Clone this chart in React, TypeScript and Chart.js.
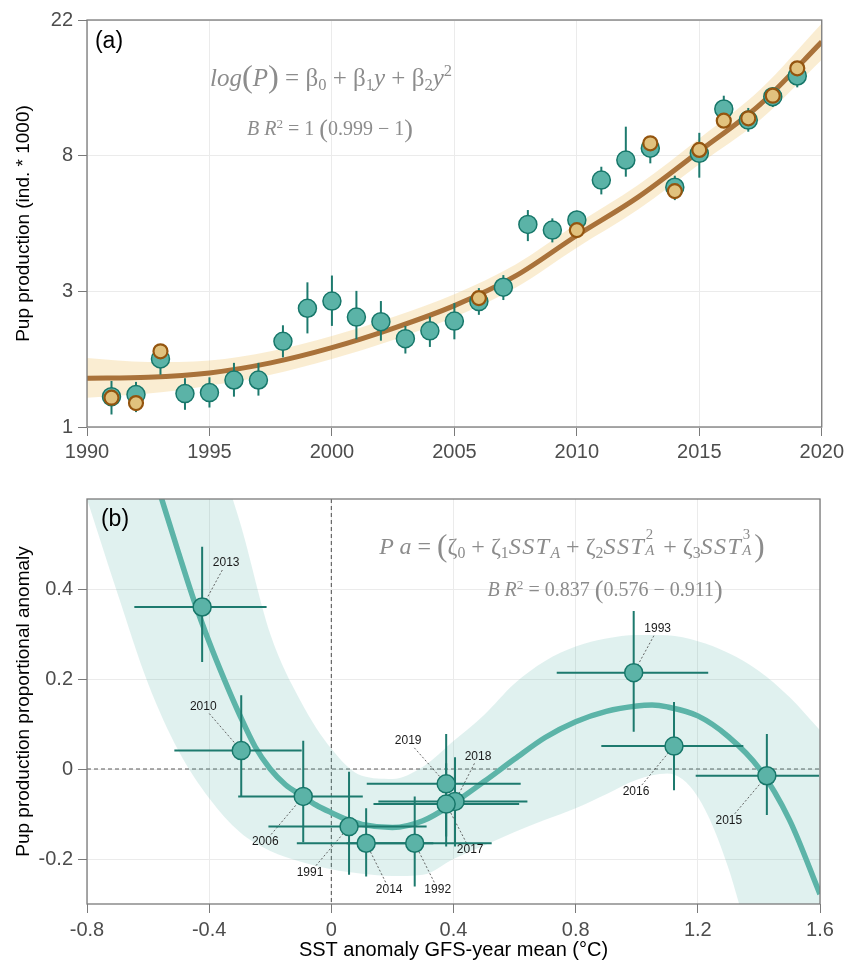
import React, { useEffect, useRef } from 'react';
import { Chart, registerables } from 'chart.js';

Chart.register(...registerables);

// ---------------- Panel (a): pup production by year (thousands) ----------------
const years = [1991, 1992, 1993, 1994, 1995, 1996, 1997, 1998, 1999, 2000, 2001, 2002, 2003, 2004, 2005, 2006, 2007, 2008, 2009, 2010, 2011, 2012, 2013, 2014, 2015, 2016, 2017, 2018, 2019];
const pupMean = [1.26, 1.28, 1.68, 1.29, 1.30, 1.43, 1.43, 1.92, 2.47, 2.61, 2.31, 2.23, 1.96, 2.08, 2.24, 2.60, 2.90, 4.68, 4.48, 4.84, 6.56, 7.64, 8.36, 6.21, 8.04, 11.27, 10.36, 12.38, 14.49];
const pupLow = [1.10, 1.12, 1.49, 1.14, 1.16, 1.26, 1.27, 1.70, 2.04, 2.16, 1.95, 1.93, 1.75, 1.84, 1.95, 2.35, 2.63, 4.12, 4.08, 4.45, 5.88, 6.73, 7.45, 5.63, 6.68, 10.3, 9.48, 11.44, 13.29];
const pupHigh = [1.42, 1.41, 1.88, 1.45, 1.46, 1.63, 1.63, 2.17, 3.01, 3.17, 2.82, 2.61, 2.16, 2.32, 2.57, 2.88, 3.18, 5.22, 4.90, 5.19, 7.26, 9.85, 9.10, 6.78, 9.40, 12.47, 11.36, 13.22, 16.0];

const altYears = [1991, 1992, 1993, 2006, 2010, 2013, 2014, 2015, 2016, 2017, 2018, 2019];
const altMean = [1.25, 1.20, 1.78, 2.67, 4.48, 8.68, 6.03, 8.25, 10.31, 10.5, 12.47, 15.36];

const fitYears = [1990, 1992.5, 1995, 1997.5, 2000, 2002.5, 2005, 2007.5, 2010, 2012.5, 2015, 2017.5, 2020];
const fitMean = [1.45, 1.46, 1.51, 1.63, 1.83, 2.12, 2.52, 3.16, 4.3, 5.76, 8.17, 11.7, 18.8];
const fitLow = [1.25, 1.29, 1.37, 1.49, 1.68, 1.94, 2.31, 2.89, 3.92, 5.24, 7.40, 10.4, 16.4];
const fitHigh = [1.69, 1.64, 1.66, 1.78, 2.00, 2.31, 2.75, 3.45, 4.70, 6.32, 9.01, 13.1, 21.6];

const aXTicks = [1990, 1995, 2000, 2005, 2010, 2015, 2020];
const aYTickLog = [0, 1.0333, 2.0667, 3.1];
const aYTickLabels = ['1', '3', '8', '22'];

// ---------------- Panel (b): proportional anomaly vs SST anomaly ----------------
const bYears = [2013, 2010, 2006, 1991, 2014, 1992, 2019, 2018, 2017, 1993, 2016, 2015];
const sstMean = [-0.423, -0.295, -0.092, 0.058, 0.114, 0.273, 0.376, 0.405, 0.376, 0.990, 1.122, 1.426];
const sstLow = [-0.645, -0.514, -0.305, -0.206, -0.113, 0.050, 0.116, 0.154, 0.138, 0.738, 0.884, 1.193];
const sstHigh = [-0.212, -0.097, 0.103, 0.312, 0.334, 0.525, 0.620, 0.642, 0.615, 1.234, 1.349, 1.597];
const anomMean = [0.360, 0.041, -0.061, -0.128, -0.165, -0.165, -0.033, -0.072, -0.078, 0.214, 0.051, -0.015];
const anomLow = [0.238, -0.061, -0.163, -0.235, -0.239, -0.261, -0.150, -0.172, -0.172, 0.083, -0.047, -0.102];
const anomHigh = [0.494, 0.164, 0.063, -0.006, -0.087, -0.061, 0.078, 0.026, 0.013, 0.351, 0.149, 0.078];

const bFitX = [-0.56, -0.5, -0.45, -0.4, -0.35, -0.3, -0.25, -0.2, -0.15, -0.1, -0.05, 0, 0.05, 0.1, 0.2, 0.3, 0.4, 0.5, 0.6, 0.7, 0.8, 0.9, 1.0, 1.05, 1.1, 1.2, 1.3, 1.4, 1.5, 1.6];
const bFitY = [0.61, 0.48, 0.375, 0.282, 0.198, 0.12, 0.05, 0.0, -0.035, -0.058, -0.08, -0.097, -0.112, -0.123, -0.13, -0.115, -0.076, -0.028, 0.022, 0.07, 0.105, 0.128, 0.14, 0.142, 0.138, 0.118, 0.072, 0.002, -0.113, -0.278];

const bBandX = [-0.8, -0.7, -0.6, -0.5, -0.4, -0.3, -0.2, -0.1, 0, 0.1, 0.2, 0.3, 0.4, 0.5, 0.6, 0.7, 0.8, 0.9, 1.0, 1.1, 1.2, 1.3, 1.4, 1.5, 1.6];
const bBandLow = [0.6, 0.39, 0.19, 0.04, -0.065, -0.14, -0.182, -0.206, -0.223, -0.233, -0.238, -0.235, -0.2, -0.17, -0.14, -0.113, -0.087, -0.056, -0.024, -0.01, -0.062, -0.22, -0.47, -0.75, -1.05];
const bBandHigh = [1.5, 1.3, 1.1, 0.92, 0.75, 0.55, 0.3, 0.15, 0.045, -0.015, -0.022, 0.005, 0.062, 0.12, 0.19, 0.24, 0.272, 0.29, 0.298, 0.297, 0.284, 0.258, 0.218, 0.16, 0.086];

const bXTicks = [-0.8, -0.4, 0, 0.4, 0.8, 1.2, 1.6];
const bYTicks = [-0.2, 0, 0.2, 0.4];

// label placement (pixel offsets from each point), layout only
const bLabelDx = [24, -38, -38, -39, 23, 23, -38, 23, 24, 24, -38, -38];
const bLabelDy = [-44, -44, 45, 46, 46, 46, -43, -45, 46, -44, 46, 45];

const SANS = '"Liberation Sans", Arial, Helvetica, sans-serif';
const SERIF = '"Liberation Serif", "Times New Roman", serif';

const TEAL_FILL = '#5bb3a7';
const TEAL_EDGE = '#17776a';
const ERR = '#1d7a6e';

const framePlugin = {
  id: 'frame',
  afterDraw(chart: any) {
    const { ctx, chartArea: a } = chart;
    ctx.save();
    ctx.strokeStyle = '#7a7a7a';
    ctx.lineWidth = 1.3;
    ctx.strokeRect(a.left, a.top, a.right - a.left, a.bottom - a.top);
    ctx.restore();
  },
};

const gridOpts = { color: '#ebebeb', lineWidth: 1, tickColor: '#7a7a7a', tickLength: 9, drawTicks: true };
const tickFont = { family: SANS, size: 20 };

function makeConfigA(): any {
  const ln = (xs: number[], ys: number[]) => xs.map((x, i) => ({ x, y: Math.log(ys[i]) }));
  const errPlugin = {
    id: 'errA',
    beforeDatasetDraw(chart: any, args: any) {
      if (args.index !== 3) return;
      const { ctx, scales } = chart;
      ctx.save();
      ctx.strokeStyle = ERR;
      ctx.lineWidth = 2;
      years.forEach((yr, i) => {
        const px = scales.x.getPixelForValue(yr);
        ctx.beginPath();
        ctx.moveTo(px, scales.y.getPixelForValue(Math.log(pupLow[i])));
        ctx.lineTo(px, scales.y.getPixelForValue(Math.log(pupHigh[i])));
        ctx.stroke();
      });
      ctx.restore();
    },
  };
  return {
    type: 'line',
    data: {
      datasets: [
        { label: 'upper', data: ln(fitYears, fitHigh), showLine: true, pointRadius: 0, borderWidth: 0, borderColor: 'rgba(0,0,0,0)', backgroundColor: 'rgba(240,205,130,0.36)', fill: '+1', order: 4, cubicInterpolationMode: 'monotone' },
        { label: 'lower', data: ln(fitYears, fitLow), showLine: true, pointRadius: 0, borderWidth: 0, borderColor: 'rgba(0,0,0,0)', fill: false, order: 3, cubicInterpolationMode: 'monotone' },
        { label: 'fit', data: ln(fitYears, fitMean), showLine: true, pointRadius: 0, borderColor: '#a9723a', borderWidth: 5, fill: false, order: 2, cubicInterpolationMode: 'monotone', clip: 0 },
        { label: 'survey', data: ln(years, pupMean), showLine: false, pointRadius: 9, pointHoverRadius: 9, pointBackgroundColor: TEAL_FILL, pointBorderColor: TEAL_EDGE, pointBorderWidth: 1.5, order: 1 },
        { label: 'alt', data: ln(altYears, altMean), showLine: false, pointRadius: 7, pointHoverRadius: 7, pointBackgroundColor: '#e1c27e', pointBorderColor: '#94550f', pointBorderWidth: 2.2, order: 0 },
      ],
    },
    options: {
      responsive: false,
      animation: false,
      events: [],
      layout: { padding: { top: 20, right: 26, left: 0, bottom: 0 } },
      elements: { line: { capBezierPoints: false } },
      plugins: { legend: { display: false }, tooltip: { enabled: false } },
      scales: {
        x: {
          type: 'linear', min: 1990, max: 2020,
          afterBuildTicks: (s: any) => { s.ticks = aXTicks.map((v) => ({ value: v })); },
          afterFit: (s: any) => { s.height = 43; },
          grid: gridOpts,
          border: { display: false },
          ticks: { color: '#4d4d4d', font: tickFont, padding: 4, maxRotation: 0, autoSkip: false, callback: (v: any) => String(v) },
        },
        y: {
          type: 'linear', min: 0, max: 3.1,
          afterBuildTicks: (s: any) => { s.ticks = aYTickLog.map((v) => ({ value: v })); },
          afterFit: (s: any) => { s.width = 87; },
          grid: gridOpts,
          border: { display: false },
          ticks: { color: '#4d4d4d', font: tickFont, padding: 5, autoSkip: false, callback: (_v: any, i: number) => aYTickLabels[i] },
          title: { display: true, text: 'Pup production (ind. * 1000)', color: '#000', font: { family: SANS, size: 19 }, padding: { top: 12, bottom: 0 } },
        },
      },
    },
    plugins: [errPlugin, framePlugin],
  };
}

function makeConfigB(): any {
  const pts = (xs: number[], ys: number[]) => xs.map((x, i) => ({ x, y: ys[i] }));
  const extras = {
    id: 'extrasB',
    beforeDatasetsDraw(chart: any) {
      const { ctx, chartArea: a, scales } = chart;
      const x0 = scales.x.getPixelForValue(0);
      const y0 = scales.y.getPixelForValue(0);
      ctx.save();
      ctx.setLineDash([4, 3]);
      ctx.strokeStyle = '#5a5a5a';
      ctx.lineWidth = 1.1;
      ctx.beginPath();
      ctx.moveTo(x0, a.top); ctx.lineTo(x0, a.bottom);
      ctx.moveTo(a.left, y0); ctx.lineTo(a.right, y0);
      ctx.stroke();
      ctx.restore();
    },
    beforeDatasetDraw(chart: any, args: any) {
      if (args.index !== 3) return;
      const { ctx, scales } = chart;
      const X = scales.x, Y = scales.y;
      ctx.save();
      // leader lines
      ctx.font = `12px ${SANS}`;
      ctx.strokeStyle = '#555';
      ctx.lineWidth = 0.9;
      ctx.setLineDash([2, 2]);
      bYears.forEach((yr, i) => {
        const px = X.getPixelForValue(sstMean[i]);
        const py = Y.getPixelForValue(anomMean[i]);
        const lx = px + bLabelDx[i];
        const ly = py + bLabelDy[i];
        const hw = ctx.measureText(String(yr)).width / 2 + 2;
        const hh = 7;
        const vx = px - lx, vy = py - ly;
        const t = Math.min(hw / Math.abs(vx || 1e-6), hh / Math.abs(vy || 1e-6));
        ctx.beginPath();
        ctx.moveTo(lx + vx * t, ly + vy * t);
        ctx.lineTo(px, py);
        ctx.stroke();
      });
      // error bars
      ctx.setLineDash([]);
      ctx.strokeStyle = ERR;
      ctx.lineWidth = 2;
      bYears.forEach((_yr, i) => {
        const px = X.getPixelForValue(sstMean[i]);
        const py = Y.getPixelForValue(anomMean[i]);
        ctx.beginPath();
        ctx.moveTo(X.getPixelForValue(sstLow[i]), py);
        ctx.lineTo(X.getPixelForValue(sstHigh[i]), py);
        ctx.moveTo(px, Y.getPixelForValue(anomLow[i]));
        ctx.lineTo(px, Y.getPixelForValue(anomHigh[i]));
        ctx.stroke();
      });
      ctx.restore();
    },
    afterDatasetsDraw(chart: any) {
      const { ctx, scales } = chart;
      ctx.save();
      ctx.font = `12px ${SANS}`;
      ctx.fillStyle = '#1a1a1a';
      ctx.textAlign = 'center';
      ctx.textBaseline = 'middle';
      bYears.forEach((yr, i) => {
        const px = scales.x.getPixelForValue(sstMean[i]);
        const py = scales.y.getPixelForValue(anomMean[i]);
        ctx.fillText(String(yr), px + bLabelDx[i], py + bLabelDy[i]);
      });
      ctx.restore();
    },
  };
  const fmt = (v: number) => String(Number(v.toFixed(1)) + 0);
  return {
    type: 'line',
    data: {
      datasets: [
        { label: 'upper', data: pts(bBandX, bBandHigh), showLine: true, pointRadius: 0, borderWidth: 0, borderColor: 'rgba(0,0,0,0)', backgroundColor: 'rgba(92,182,170,0.19)', fill: '+1', order: 4, cubicInterpolationMode: 'monotone' },
        { label: 'lower', data: pts(bBandX, bBandLow), showLine: true, pointRadius: 0, borderWidth: 0, borderColor: 'rgba(0,0,0,0)', fill: false, order: 3, cubicInterpolationMode: 'monotone' },
        { label: 'fit', data: pts(bFitX, bFitY), showLine: true, pointRadius: 0, borderColor: '#5cb4a8', borderWidth: 5.5, fill: false, order: 2, cubicInterpolationMode: 'monotone', clip: 0 },
        { label: 'years', data: pts(sstMean, anomMean), showLine: false, pointRadius: 9, pointHoverRadius: 9, pointBackgroundColor: TEAL_FILL, pointBorderColor: TEAL_EDGE, pointBorderWidth: 1.5, order: 1 },
      ],
    },
    options: {
      responsive: false,
      animation: false,
      events: [],
      layout: { padding: { top: 29, right: 28, left: 0, bottom: 0 } },
      elements: { line: { capBezierPoints: false } },
      plugins: { legend: { display: false }, tooltip: { enabled: false } },
      scales: {
        x: {
          type: 'linear', min: -0.8, max: 1.6,
          afterBuildTicks: (s: any) => { s.ticks = bXTicks.map((v) => ({ value: v })); },
          afterFit: (s: any) => { s.height = 59; },
          grid: gridOpts,
          border: { display: false },
          ticks: { color: '#4d4d4d', font: tickFont, padding: 5, maxRotation: 0, autoSkip: false, callback: (v: any) => fmt(v) },
          title: { display: true, text: 'SST anomaly GFS-year mean (°C)', color: '#000', font: { family: SANS, size: 20 }, padding: { top: 0, bottom: 1 } },
        },
        y: {
          type: 'linear', min: -0.3, max: 0.6,
          afterBuildTicks: (s: any) => { s.ticks = bYTicks.map((v) => ({ value: v })); },
          afterFit: (s: any) => { s.width = 87; },
          grid: gridOpts,
          border: { display: false },
          ticks: { color: '#4d4d4d', font: tickFont, padding: 5, autoSkip: false, callback: (v: any) => fmt(v) },
          title: { display: true, text: 'Pup production proportional anomaly', color: '#000', font: { family: SANS, size: 19 }, padding: { top: 12, bottom: 0 } },
        },
      },
    },
    plugins: [extras, framePlugin],
  };
}

const Sub = ({ children }: any) => <span style={{ fontSize: '0.66em', verticalAlign: '-0.28em', lineHeight: 0 }}>{children}</span>;
const Sup = ({ children }: any) => <span style={{ fontSize: '0.66em', verticalAlign: '0.55em', lineHeight: 0 }}>{children}</span>;
const Big = ({ children }: any) => <span style={{ fontSize: '1.3em', verticalAlign: '-0.06em', lineHeight: 0 }}>{children}</span>;
const Stack = ({ top, bot }: any) => (
  <span style={{ position: 'relative', display: 'inline-block', width: '0.5em', height: '1em' }}>
    <span style={{ position: 'absolute', left: '0.04em', top: '-0.22em', fontSize: '0.62em', lineHeight: 1 }}>{top}</span>
    <span style={{ position: 'absolute', left: '0em', top: '0.9em', fontSize: '0.62em', lineHeight: 1 }}><i>{bot}</i></span>
  </span>
);

const eqBase: any = {
  position: 'absolute',
  transform: 'translate(-50%, -50%)',
  fontFamily: SERIF,
  color: '#8c8c8c',
  whiteSpace: 'nowrap',
  lineHeight: 1,
  pointerEvents: 'none',
};
const panelTag: any = {
  position: 'absolute',
  transform: 'translate(-50%, -50%)',
  fontFamily: SANS,
  fontSize: 23,
  color: '#000',
  lineHeight: 1,
  whiteSpace: 'nowrap',
};

export default function App() {
  const refA = useRef<HTMLCanvasElement>(null);
  const refB = useRef<HTMLCanvasElement>(null);
  useEffect(() => {
    const ca = new Chart(refA.current as HTMLCanvasElement, makeConfigA());
    const cb = new Chart(refB.current as HTMLCanvasElement, makeConfigB());
    return () => { ca.destroy(); cb.destroy(); };
  }, []);
  const sst: any = { letterSpacing: '0.06em' };
  return (
    <div style={{ position: 'absolute', left: 0, top: 0, width: 848, height: 963, background: '#fff', overflow: 'hidden' }}>
      <canvas ref={refA} width={848} height={470} style={{ position: 'absolute', left: 0, top: 0, width: 848, height: 470 }} />
      <canvas ref={refB} width={848} height={493} style={{ position: 'absolute', left: 0, top: 470, width: 848, height: 493 }} />

      <div style={{ ...panelTag, left: 109, top: 40 }}>(a)</div>
      <div style={{ ...panelTag, left: 115, top: 518 }}>(b)</div>

      <div style={{ ...eqBase, left: 331, top: 77, fontSize: 25 }}>
        <i>log</i><Big>(</Big><i>P</i><Big>)</Big> = β<Sub>0</Sub> + β<Sub>1</Sub><i>y</i> + β<Sub>2</Sub><i>y</i><Sup>2</Sup>
      </div>
      <div style={{ ...eqBase, left: 330, top: 128, fontSize: 20 }}>
        <i>B R</i><Sup>2</Sup> = 1 <Big>(</Big>0.999 − 1<Big>)</Big>
      </div>

      <div style={{ ...eqBase, left: 572, top: 544, fontSize: 24 }}>
        <i>P a</i> = <Big>(</Big>ζ<Sub>0</Sub> + ζ<Sub>1</Sub><i style={sst}>SST</i><Sub><i>A</i></Sub> + ζ<Sub>2</Sub><i style={sst}>SST</i><Stack top="2" bot="A" /> + ζ<Sub>3</Sub><i style={sst}>SST</i><Stack top="3" bot="A" /><Big>)</Big>
      </div>
      <div style={{ ...eqBase, left: 605, top: 589, fontSize: 20 }}>
        <i>B R</i><Sup>2</Sup> = 0.837 <Big>(</Big>0.576 − 0.911<Big>)</Big>
      </div>
    </div>
  );
}
